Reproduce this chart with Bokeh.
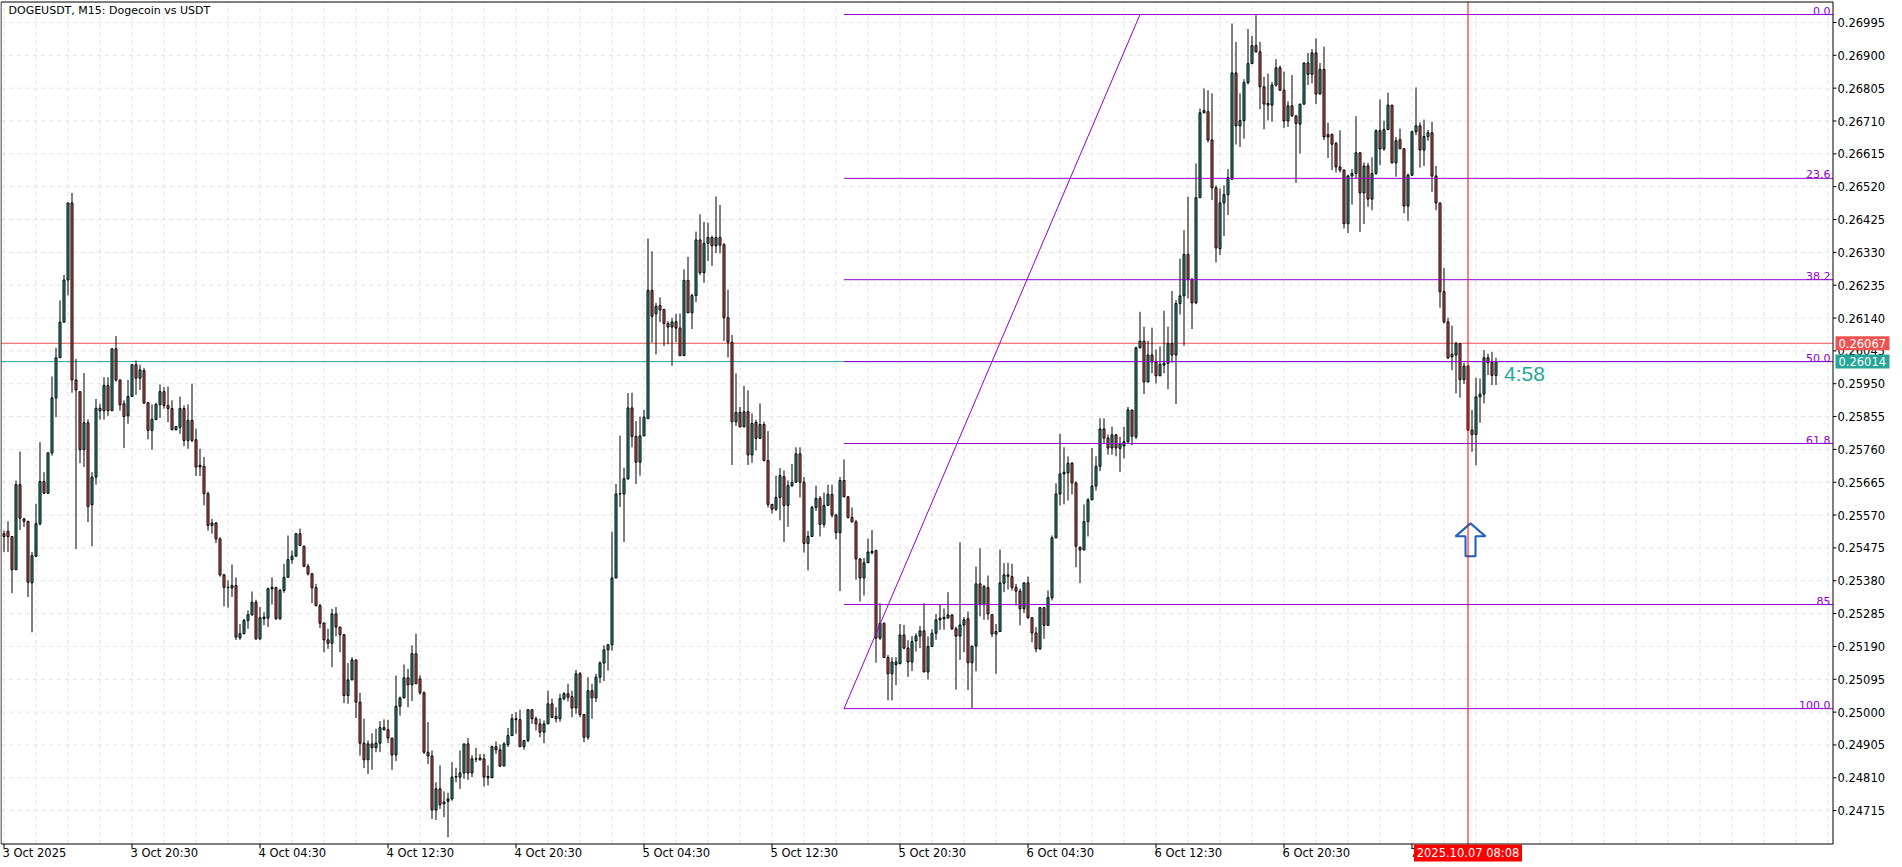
from bokeh.plotting import figure
from bokeh.models import ColumnDataSource, Range1d
from bokeh.embed import file_html
from bokeh.resources import INLINE
from bokeh.core.properties import value

# ---------------- data (DOGEUSDT M15, bar 0 = 3 Oct 2025 12:30) ----------------
OPEN = [
0.25516,0.25523,0.25508,0.25412,0.25658,0.25559,0.25552,0.25374,0.25451,0.25545,
0.25667,0.25633,0.25750,0.25909,0.26025,0.26128,0.26250,0.26473,0.25961,0.25927,
0.25759,0.25837,0.25600,0.25680,0.25879,0.25872,0.25945,0.25872,0.26051,0.25961,
0.25892,0.25857,0.25913,0.26005,0.25966,0.25988,0.25895,0.25815,0.25846,0.25890,
0.25927,0.25887,0.25878,0.25817,0.25824,0.25878,0.25786,0.25844,0.25788,0.25714,
0.25711,0.25632,0.25540,0.25547,0.25501,0.25397,0.25361,0.25359,0.25366,0.25215,
0.25227,0.25265,0.25281,0.25318,0.25212,0.25270,0.25272,0.25357,0.25360,0.25270,
0.25352,0.25390,0.25441,0.25451,0.25516,0.25480,0.25422,0.25400,0.25360,0.25308,
0.25258,0.25209,0.25199,0.25284,0.25246,0.25224,0.25048,0.25093,0.25151,0.25029,
0.24910,0.24862,0.24908,0.24897,0.24910,0.24955,0.24949,0.24925,0.24876,0.25017,
0.25041,0.25099,0.25079,0.25169,0.25096,0.25056,0.24884,0.24873,0.24717,0.24778,
0.24740,0.24742,0.24749,0.24812,0.24812,0.24824,0.24908,0.24824,0.24865,0.24867,
0.24865,0.24814,0.24810,0.24900,0.24891,0.24844,0.24906,0.24932,0.24978,0.24978,
0.24900,0.24918,0.25007,0.24981,0.24966,0.24942,0.24966,0.25024,0.24987,0.24981,
0.25039,0.25053,0.25045,0.25012,0.25111,0.24993,0.24927,0.25062,0.25041,0.25101,
0.25142,0.25180,0.25195,0.25388,0.25631,0.25631,0.25675,0.25880,0.25797,0.25723,
0.25799,0.25849,0.26220,0.26152,0.26176,0.26165,0.26124,0.26114,0.26129,0.26111,
0.26031,0.26249,0.26155,0.26205,0.26366,0.26271,0.26356,0.26373,0.26349,0.26373,
0.26352,0.26141,0.26070,0.25840,0.25867,0.25825,0.25869,0.25744,0.25838,0.25792,
0.25832,0.25728,0.25601,0.25587,0.25621,0.25681,0.25598,0.25655,0.25665,0.25747,
0.25665,0.25488,0.25508,0.25592,0.25618,0.25543,0.25598,0.25630,0.25570,0.25519,
0.25670,0.25623,0.25563,0.25550,0.25443,0.25388,0.25432,0.25461,0.25467,0.25214,
0.25257,0.25158,0.25111,0.25137,0.25140,0.25223,0.25185,0.25145,0.25206,0.25220,
0.25235,0.25116,0.25190,0.25228,0.25267,0.25270,0.25272,0.25281,0.25241,0.25220,
0.25252,0.25270,0.25143,0.25191,0.25371,0.25311,0.25360,0.25282,0.25226,0.25233,
0.25373,0.25397,0.25392,0.25361,0.25350,0.25299,0.25374,0.25273,0.25229,0.25183,
0.25302,0.25251,0.25331,0.25504,0.25631,0.25689,0.25692,0.25720,0.25663,0.25477,
0.25469,0.25551,0.25614,0.25654,0.25711,0.25819,0.25793,0.25764,0.25802,0.25763,
0.25770,0.25782,0.25874,0.25796,0.26054,0.26073,0.25955,0.26033,0.26013,0.25973,
0.26004,0.26009,0.26066,0.26033,0.26182,0.26204,0.26324,0.26252,0.26184,0.26488,
0.26734,0.26737,0.26655,0.26517,0.26341,0.26473,0.26497,0.26542,0.26849,0.26696,
0.26711,0.26821,0.26876,0.26928,0.26910,0.26809,0.26761,0.26756,0.26814,0.26864,
0.26799,0.26710,0.26754,0.26725,0.26701,0.26759,0.26878,0.26845,0.26907,0.26788,
0.26859,0.26671,0.26671,0.26645,0.26577,0.26568,0.26413,0.26551,0.26558,0.26618,
0.26502,0.26580,0.26484,0.26558,0.26682,0.26629,0.26685,0.26756,0.26589,0.26656,
0.26630,0.26464,0.26553,0.26679,0.26696,0.26626,0.26665,0.26676,0.26551,0.26473,
0.26216,0.26129,0.26028,0.26033,0.26066,0.25962,0.26001,0.25816,0.25803,0.25912,
0.25920,0.26025,0.26011,0.25974]
HIGH = [
0.25525,0.25552,0.25508,0.25670,0.25754,0.25562,0.25552,0.25463,0.25603,0.25781,
0.25694,0.25750,0.25971,0.26054,0.26191,0.26265,0.26473,0.26502,0.26022,0.25927,
0.25981,0.25847,0.25694,0.25906,0.25892,0.25969,0.25969,0.26051,0.26088,0.25961,
0.25902,0.25961,0.26005,0.26017,0.26005,0.25996,0.25895,0.25890,0.25895,0.25948,
0.25940,0.25942,0.25902,0.25826,0.25913,0.25887,0.25890,0.25950,0.25820,0.25762,
0.25738,0.25638,0.25559,0.25550,0.25506,0.25400,0.25381,0.25427,0.25390,0.25255,
0.25270,0.25294,0.25349,0.25325,0.25304,0.25289,0.25360,0.25390,0.25363,0.25357,
0.25429,0.25511,0.25468,0.25518,0.25531,0.25480,0.25429,0.25403,0.25371,0.25313,
0.25258,0.25241,0.25299,0.25304,0.25246,0.25224,0.25142,0.25159,0.25151,0.25056,
0.24981,0.24918,0.24939,0.24952,0.24974,0.24979,0.24978,0.24925,0.25106,0.25045,
0.25138,0.25125,0.25193,0.25227,0.25106,0.25060,0.24971,0.24889,0.24797,0.24846,
0.24771,0.24767,0.24855,0.24839,0.24889,0.24908,0.24925,0.24875,0.24897,0.24879,
0.24879,0.24846,0.24903,0.24915,0.24906,0.24913,0.24954,0.24995,0.25000,0.25007,
0.24918,0.25007,0.25007,0.24987,0.24981,0.24976,0.25062,0.25039,0.25014,0.25053,
0.25058,0.25082,0.25062,0.25122,0.25116,0.24993,0.25101,0.25082,0.25111,0.25147,
0.25193,0.25195,0.25522,0.25660,0.25800,0.25707,0.25923,0.25924,0.25842,0.25855,
0.25874,0.26370,0.26333,0.26184,0.26200,0.26165,0.26131,0.26141,0.26152,0.26153,
0.26281,0.26317,0.26210,0.26390,0.26440,0.26418,0.26416,0.26378,0.26492,0.26467,
0.26357,0.26222,0.26091,0.25980,0.25883,0.25944,0.25931,0.25864,0.25846,0.25893,
0.25840,0.25813,0.25601,0.25684,0.25706,0.25699,0.25670,0.25718,0.25766,0.25766,
0.25680,0.25524,0.25597,0.25655,0.25625,0.25635,0.25658,0.25658,0.25573,0.25680,
0.25731,0.25623,0.25592,0.25556,0.25446,0.25446,0.25502,0.25527,0.25470,0.25315,
0.25259,0.25165,0.25159,0.25159,0.25255,0.25252,0.25208,0.25220,0.25228,0.25249,
0.25315,0.25219,0.25240,0.25284,0.25312,0.25300,0.25347,0.25284,0.25247,0.25491,
0.25275,0.25291,0.25191,0.25421,0.25474,0.25368,0.25395,0.25282,0.25255,0.25470,
0.25431,0.25432,0.25429,0.25371,0.25357,0.25374,0.25392,0.25275,0.25246,0.25304,
0.25304,0.25352,0.25511,0.25662,0.25805,0.25766,0.25740,0.25723,0.25667,0.25479,
0.25601,0.25619,0.25764,0.25740,0.25850,0.25850,0.25803,0.25826,0.25805,0.25796,
0.25825,0.25883,0.25874,0.26057,0.26158,0.26115,0.26074,0.26112,0.26049,0.26058,
0.26161,0.26115,0.26218,0.26192,0.26312,0.26394,0.26491,0.26256,0.26587,0.26746,
0.26804,0.26799,0.26790,0.26524,0.26515,0.26524,0.26571,0.26992,0.26939,0.26790,
0.26831,0.26976,0.26956,0.27016,0.26939,0.26838,0.26847,0.26823,0.26889,0.26870,
0.26853,0.26767,0.26843,0.26725,0.26759,0.26878,0.26907,0.26918,0.26949,0.26878,
0.26925,0.26705,0.26674,0.26650,0.26683,0.26570,0.26555,0.26571,0.26724,0.26619,
0.26590,0.26589,0.26605,0.26686,0.26772,0.26711,0.26792,0.26756,0.26664,0.26688,
0.26630,0.26558,0.26682,0.26807,0.26706,0.26714,0.26684,0.26708,0.26580,0.26473,
0.26285,0.26141,0.26118,0.26071,0.26068,0.26010,0.26005,0.25874,0.25967,0.25965,
0.26047,0.26037,0.26042,0.26025]
LOW = [
0.25463,0.25463,0.25344,0.25412,0.25527,0.25535,0.25333,0.25231,0.25448,0.25540,
0.25633,0.25633,0.25742,0.25853,0.26025,0.26128,0.26205,0.25924,0.25472,0.25720,
0.25709,0.25550,0.25480,0.25658,0.25846,0.25846,0.25857,0.25872,0.25956,0.25872,
0.25764,0.25834,0.25913,0.25918,0.25932,0.25892,0.25789,0.25759,0.25846,0.25851,
0.25878,0.25839,0.25815,0.25815,0.25805,0.25769,0.25762,0.25781,0.25683,0.25683,
0.25598,0.25525,0.25516,0.25489,0.25392,0.25306,0.25302,0.25333,0.25209,0.25209,
0.25225,0.25241,0.25280,0.25209,0.25209,0.25251,0.25246,0.25311,0.25267,0.25267,
0.25345,0.25390,0.25429,0.25451,0.25480,0.25419,0.25395,0.25315,0.25306,0.25243,
0.25173,0.25183,0.25130,0.25219,0.25173,0.25026,0.25024,0.25093,0.24983,0.24874,
0.24838,0.24821,0.24833,0.24884,0.24884,0.24947,0.24910,0.24833,0.24858,0.24990,
0.25041,0.25014,0.25032,0.25082,0.25050,0.24879,0.24850,0.24691,0.24688,0.24720,
0.24696,0.24638,0.24744,0.24797,0.24778,0.24807,0.24804,0.24812,0.24855,0.24860,
0.24785,0.24788,0.24810,0.24879,0.24841,0.24844,0.24899,0.24932,0.24937,0.24899,
0.24891,0.24913,0.24966,0.24947,0.24927,0.24910,0.24966,0.24983,0.24970,0.24972,
0.25034,0.25031,0.24985,0.24995,0.24985,0.24913,0.24920,0.24981,0.25029,0.25084,
0.25090,0.25120,0.25178,0.25388,0.25593,0.25492,0.25672,0.25766,0.25660,0.25684,
0.25799,0.25849,0.26069,0.26035,0.26128,0.26059,0.26064,0.26002,0.26070,0.26031,
0.26031,0.26155,0.26108,0.26186,0.26264,0.26242,0.26305,0.26291,0.26328,0.26327,
0.26074,0.26026,0.25715,0.25828,0.25825,0.25825,0.25715,0.25721,0.25757,0.25790,
0.25725,0.25592,0.25575,0.25582,0.25555,0.25492,0.25536,0.25651,0.25665,0.25621,
0.25462,0.25410,0.25508,0.25582,0.25508,0.25534,0.25597,0.25563,0.25500,0.25350,
0.25621,0.25560,0.25550,0.25383,0.25320,0.25337,0.25432,0.25456,0.25143,0.25209,
0.25158,0.25034,0.25034,0.25078,0.25140,0.25182,0.25102,0.25119,0.25175,0.25185,
0.25116,0.25094,0.25188,0.25209,0.25238,0.25238,0.25272,0.25238,0.25065,0.25151,
0.25173,0.25064,0.25012,0.25118,0.25277,0.25267,0.25267,0.25217,0.25111,0.25233,
0.25347,0.25355,0.25352,0.25308,0.25251,0.25286,0.25270,0.25202,0.25173,0.25180,
0.25212,0.25251,0.25323,0.25504,0.25598,0.25601,0.25612,0.25630,0.25419,0.25373,
0.25469,0.25508,0.25614,0.25641,0.25697,0.25778,0.25745,0.25745,0.25740,0.25695,
0.25734,0.25777,0.25772,0.25790,0.26052,0.25920,0.25955,0.25980,0.25951,0.25972,
0.25980,0.25934,0.26011,0.25891,0.26150,0.26060,0.26197,0.26108,0.26180,0.26488,
0.26732,0.26648,0.26481,0.26301,0.26322,0.26377,0.26438,0.26539,0.26642,0.26635,
0.26659,0.26816,0.26876,0.26908,0.26744,0.26686,0.26712,0.26708,0.26809,0.26799,
0.26690,0.26693,0.26722,0.26531,0.26616,0.26756,0.26814,0.26819,0.26759,0.26787,
0.26655,0.26603,0.26568,0.26561,0.26561,0.26399,0.26386,0.26468,0.26544,0.26389,
0.26412,0.26462,0.26452,0.26555,0.26582,0.26624,0.26684,0.26587,0.26549,0.26628,
0.26443,0.26421,0.26551,0.26669,0.26575,0.26580,0.26653,0.26505,0.26452,0.26170,
0.26124,0.26021,0.25989,0.25922,0.25910,0.25949,0.25813,0.25753,0.25714,0.25837,
0.25893,0.25975,0.25946,0.25946]
CLOSE = [
0.25508,0.25508,0.25412,0.25658,0.25561,0.25552,0.25376,0.25453,0.25545,0.25667,
0.25633,0.25750,0.25909,0.26025,0.26128,0.26250,0.26473,0.25961,0.25932,0.25759,
0.25837,0.25595,0.25680,0.25879,0.25872,0.25945,0.25872,0.26051,0.25961,0.25889,
0.25855,0.25913,0.26005,0.25966,0.25990,0.25894,0.25815,0.25847,0.25890,0.25927,
0.25887,0.25878,0.25817,0.25826,0.25878,0.25786,0.25844,0.25786,0.25709,0.25709,
0.25632,0.25540,0.25547,0.25501,0.25397,0.25361,0.25360,0.25366,0.25217,0.25227,
0.25265,0.25282,0.25318,0.25212,0.25273,0.25275,0.25357,0.25361,0.25270,0.25352,
0.25390,0.25441,0.25451,0.25516,0.25482,0.25422,0.25400,0.25360,0.25308,0.25257,
0.25209,0.25199,0.25284,0.25246,0.25224,0.25048,0.25093,0.25151,0.25029,0.24910,
0.24862,0.24908,0.24897,0.24910,0.24955,0.24949,0.24925,0.24876,0.25017,0.25041,
0.25099,0.25079,0.25169,0.25082,0.25056,0.24884,0.24873,0.24717,0.24778,0.24732,
0.24735,0.24749,0.24812,0.24814,0.24824,0.24908,0.24824,0.24865,0.24864,0.24862,
0.24812,0.24810,0.24900,0.24891,0.24844,0.24908,0.24932,0.24981,0.24981,0.24900,
0.24918,0.25007,0.24981,0.24966,0.24942,0.24966,0.25024,0.24985,0.24981,0.25039,
0.25053,0.25043,0.25012,0.25111,0.24993,0.24927,0.25062,0.25041,0.25101,0.25142,
0.25180,0.25195,0.25388,0.25631,0.25632,0.25675,0.25880,0.25797,0.25723,0.25799,
0.25853,0.26220,0.26145,0.26174,0.26163,0.26124,0.26114,0.26129,0.26111,0.26031,
0.26249,0.26155,0.26205,0.26366,0.26271,0.26356,0.26373,0.26349,0.26373,0.26351,
0.26141,0.26070,0.25840,0.25867,0.25825,0.25869,0.25744,0.25835,0.25792,0.25832,
0.25728,0.25601,0.25587,0.25621,0.25684,0.25598,0.25655,0.25665,0.25747,0.25665,
0.25488,0.25508,0.25592,0.25618,0.25543,0.25598,0.25630,0.25570,0.25519,0.25670,
0.25623,0.25563,0.25550,0.25443,0.25388,0.25432,0.25463,0.25465,0.25214,0.25257,
0.25158,0.25111,0.25145,0.25145,0.25223,0.25185,0.25145,0.25204,0.25220,0.25235,
0.25116,0.25190,0.25228,0.25267,0.25272,0.25274,0.25281,0.25241,0.25220,0.25252,
0.25267,0.25143,0.25191,0.25371,0.25311,0.25363,0.25284,0.25226,0.25233,0.25374,
0.25397,0.25393,0.25361,0.25350,0.25299,0.25374,0.25273,0.25229,0.25183,0.25302,
0.25251,0.25331,0.25504,0.25631,0.25689,0.25694,0.25720,0.25663,0.25480,0.25469,
0.25551,0.25614,0.25654,0.25711,0.25819,0.25793,0.25764,0.25802,0.25764,0.25777,
0.25782,0.25874,0.25798,0.26054,0.26073,0.25955,0.26033,0.26013,0.25973,0.26006,
0.26009,0.26066,0.26033,0.26182,0.26204,0.26324,0.26252,0.26184,0.26488,0.26734,
0.26740,0.26655,0.26517,0.26343,0.26473,0.26497,0.26546,0.26849,0.26696,0.26711,
0.26821,0.26876,0.26928,0.26910,0.26809,0.26759,0.26756,0.26814,0.26864,0.26799,
0.26710,0.26754,0.26725,0.26703,0.26759,0.26878,0.26845,0.26907,0.26788,0.26859,
0.26664,0.26664,0.26643,0.26577,0.26568,0.26413,0.26551,0.26558,0.26618,0.26502,
0.26580,0.26484,0.26558,0.26682,0.26629,0.26685,0.26756,0.26589,0.26653,0.26630,
0.26464,0.26553,0.26679,0.26696,0.26626,0.26665,0.26676,0.26551,0.26473,0.26216,
0.26129,0.26025,0.26035,0.26066,0.25962,0.26001,0.25816,0.25803,0.25912,0.25920,
0.26025,0.26011,0.25974,0.26014]

X_TICK_BARS = [0, 32, 64, 96, 128, 160, 192, 224, 256, 288, 320, 352]
X_TICK_LABELS = ["3 Oct 2025", "3 Oct 20:30", "4 Oct 04:30", "4 Oct 12:30", "4 Oct 20:30",
                 "5 Oct 04:30", "5 Oct 12:30", "5 Oct 20:30", "6 Oct 04:30", "6 Oct 12:30",
                 "6 Oct 20:30", "7 Oct 04:30"]
Y_TICKS = [0.24715, 0.24810, 0.24905, 0.25000, 0.25095, 0.25190, 0.25285, 0.25380, 0.25475,
           0.25570, 0.25665, 0.25760, 0.25855, 0.25950, 0.26045, 0.26140, 0.26235, 0.26330,
           0.26425, 0.26520, 0.26615, 0.26710, 0.26805, 0.26900, 0.26995]
Y_TICK_LABELS = ["0.24715", "0.24810", "0.24905", "0.25000", "0.25095", "0.25190", "0.25285",
                 "0.25380", "0.25475", "0.25570", "0.25665", "0.25760", "0.25855", "0.25950",
                 "0.26045", "0.26140", "0.26235", "0.26330", "0.26425", "0.26520", "0.26615",
                 "0.26710", "0.26805", "0.26900", "0.26995"]

FIB_LOW, FIB_HIGH = 0.25010, 0.27018
FIB_START_BAR, FIB_END_BAR = 210, 284
FIB_LEVELS = [0.0, 23.6, 38.2, 50.0, 61.8, 85.0, 100.0]
FIB_LABELS = ["0.0", "23.6", "38.2", "50.0", "61.8", "85", "100.0"]
BID, ASK = 0.26014, 0.26067
BID_LABEL, ASK_LABEL = "0.26014", "0.26067"
VLINE_BAR = 366
VLINE_TEXT = "2025.10.07 08:08"
TIMER_TEXT = "4:58"
TITLE = "DOGEUSDT, M15:  Dogecoin vs USDT"
ARROW_BAR, ARROW_TIP_PRICE = 366.625, 0.25546

# ---------------- layout / style ----------------
W, H = 1902, 867
BAR_PX = 4.0
X_RANGE = (-0.875, -0.875 + W / BAR_PX)          # whole canvas, bar i centred at 4*i+3.5 px
Y_TOP = 0.270586
PRICE_PER_PX = 0.0000289287
Y_RANGE = (Y_TOP - H * PRICE_PER_PX, Y_TOP)      # whole canvas
PLOT_R, PLOT_T, PLOT_B = 1832, 1, 843            # chart area in px


def bx(px):
    """canvas x pixel -> bar coordinate"""
    return X_RANGE[0] + px / BAR_PX


def py(px):
    """canvas y pixel -> price coordinate"""
    return Y_TOP - px * PRICE_PER_PX


BULL, BEAR = "#26a69a", "#ef5350"
FIB_COLOR = "#9400d3"
GRID_COLOR = "#e3e3e3"
FONT = value("DejaVu Sans")
AX_FS = "11.5px"

p = figure(width=W, height=H, output_backend="svg", toolbar_location=None,
           x_range=Range1d(*X_RANGE), y_range=Range1d(*Y_RANGE),
           x_axis_location=None, y_axis_location=None,
           min_border_left=0, min_border_right=0, min_border_top=0, min_border_bottom=0)
p.background_fill_color = "white"
p.border_fill_color = "white"
p.outline_line_color = None
p.xgrid.grid_line_color = None
p.ygrid.grid_line_color = None

left, right = bx(0.5), bx(PLOT_R + 0.5)
top, bottom = py(PLOT_T + 0.5), py(PLOT_B + 0.5)

# ---- grid (dotted) ----
vgrid = list(range(0, 458, 8))
p.segment(x0=vgrid, x1=vgrid, y0=[bottom] * len(vgrid), y1=[top] * len(vgrid),
          line_color=GRID_COLOR, line_dash="4 4", line_width=1)
p.segment(x0=[left] * len(Y_TICKS), x1=[right] * len(Y_TICKS), y0=Y_TICKS, y1=Y_TICKS,
          line_color=GRID_COLOR, line_dash="4 4", line_width=1)

# ---- bid / ask lines (behind candles) ----
p.segment(x0=[left, left], x1=[right, right], y0=[ASK, BID], y1=[ASK, BID],
          line_color=[BEAR, BULL], line_width=1)

# ---- candles ----
bars = list(range(len(OPEN)))
src = ColumnDataSource(dict(
    x=bars, high=HIGH, low=LOW,
    top=[max(o, c) for o, c in zip(OPEN, CLOSE)],
    bottom=[min(o, c) for o, c in zip(OPEN, CLOSE)],
    color=[BULL if c >= o else BEAR for o, c in zip(OPEN, CLOSE)]))
p.segment(x0="x", y0="low", x1="x", y1="high", source=src, line_color="black", line_width=1)
p.vbar(x="x", width=0.5, top="top", bottom="bottom", source=src,
       fill_color="color", line_color="black", line_width=1)

# ---- fibonacci retracement ----
n = len(FIB_LEVELS)
fib_prices = [FIB_HIGH - lv / 100.0 * (FIB_HIGH - FIB_LOW) for lv in FIB_LEVELS]
p.segment(x0=[FIB_START_BAR] * n, x1=[right] * n, y0=fib_prices, y1=fib_prices,
          line_color=FIB_COLOR, line_width=1)
p.line([FIB_START_BAR, FIB_END_BAR], [FIB_LOW, FIB_HIGH], line_color=FIB_COLOR, line_width=1)
p.text(x=[bx(PLOT_R - 2)] * n, y=fib_prices, text=FIB_LABELS, text_align="right",
       text_baseline="bottom", text_font=FONT, text_font_size="11px", text_color=FIB_COLOR)

# ---- blue outline arrow ----
ARROW_SHAPE_PX = [(0, 0), (15, 13), (5, 13), (5, 33), (-5, 33), (-5, 13), (-15, 13)]
p.patch([ARROW_BAR + dx / BAR_PX for dx, dy in ARROW_SHAPE_PX],
        [ARROW_TIP_PRICE - dy * PRICE_PER_PX for dx, dy in ARROW_SHAPE_PX],
        fill_color="white", line_color="#1f5fbf", line_width=2)

# ---- timer text ----
p.text(x=[len(OPEN) - 1], y=[BID], text=[TIMER_TEXT], x_offset=8, y_offset=0,
       text_align="left", text_baseline="top", text_font=value("Liberation Sans"),
       text_font_size="21px", text_color=BULL)

# ---- vertical line ----
p.segment(x0=[VLINE_BAR], x1=[VLINE_BAR], y0=[bottom], y1=[top], line_color="#ff0000", line_width=1)

# ---- title ----
p.text(x=[bx(8)], y=[py(10)], text=[TITLE], text_font=FONT, text_font_size="11px",
       text_color="black", text_baseline="middle", text_align="left")

# ---- chart border / axis lines ----
p.segment(x0=[left, left, right, left], x1=[right, left, right, right],
          y0=[top, top, top, bottom], y1=[top, bottom, bottom, bottom],
          line_color="black", line_width=1)

# ---- right price axis ----
nt = len(Y_TICKS)
p.segment(x0=[right] * nt, x1=[bx(PLOT_R + 4)] * nt, y0=Y_TICKS, y1=Y_TICKS,
          line_color="black", line_width=1)
p.text(x=[bx(PLOT_R + 5)] * nt, y=Y_TICKS, text=Y_TICK_LABELS, text_align="left",
       text_baseline="middle", text_font=FONT, text_font_size=AX_FS, text_color="black")

# ---- bottom time axis ----
nx = len(X_TICK_BARS)
p.segment(x0=X_TICK_BARS, x1=X_TICK_BARS, y0=[bottom] * nx, y1=[py(PLOT_B + 5)] * nx,
          line_color="black", line_width=1)
p.text(x=X_TICK_BARS, y=[py(PLOT_B + 2)] * nx, text=X_TICK_LABELS, x_offset=-1.5,
       text_align="left", text_baseline="top", text_font=FONT, text_font_size=AX_FS,
       text_color="black")

# ---- bid / ask boxes on the price axis ----
box_l, box_r = bx(PLOT_R + 3), bx(PLOT_R + 57)
half = 7 * PRICE_PER_PX
p.quad(left=[box_l, box_l], right=[box_r, box_r], top=[ASK + half, BID + half],
       bottom=[ASK - half, BID - half], fill_color=[BEAR, BULL], line_color=None)
p.text(x=[bx(PLOT_R + 6)] * 2, y=[ASK, BID], text=[ASK_LABEL, BID_LABEL], text_align="left",
       text_baseline="middle", text_font=FONT, text_font_size=AX_FS, text_color="white")

# ---- time box under the vertical line ----
p.quad(left=[VLINE_BAR - 13.5], right=[VLINE_BAR + 13.5], top=[py(PLOT_B + 1)],
       bottom=[py(PLOT_B + 18)], fill_color="#ff0000", line_color=None)
p.text(x=[VLINE_BAR], y=[py(PLOT_B + 9.5)], text=[VLINE_TEXT], text_align="center",
       text_baseline="middle", text_font=FONT, text_font_size=AX_FS, text_color="white")

open("out.html", "w").write(file_html(p, INLINE))
